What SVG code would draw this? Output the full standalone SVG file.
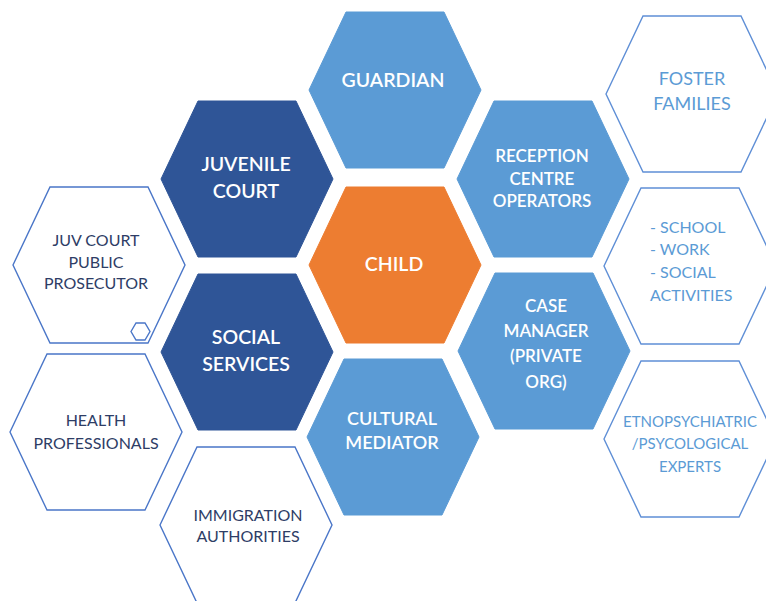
<svg xmlns="http://www.w3.org/2000/svg" xmlns:xlink="http://www.w3.org/1999/xlink" width="766" height="601" viewBox="0 0 766 601">
<style>
.lb{fill:#5b9bd5;stroke:#5b9bd5;stroke-width:1}
.db{fill:#2f5597;stroke:#2f5597;stroke-width:1}
.or{fill:#ed7d31;stroke:#ed7d31;stroke-width:1}
.ol{fill:#ffffff;stroke:#4a76c8;stroke-width:1.4}
.or2{fill:#ffffff;stroke:#5f8fd6;stroke-width:1.4}
text{font-family:Lato,"Open Sans","Liberation Sans",sans-serif;font-size:17px;text-anchor:middle}
.w{fill:#ffffff;font-weight:600}
.big{font-size:19.5px}
.mid{font-size:18px}
.dk{fill:#2e3d66;font-size:16px}
.lt{fill:#5b9bd5;font-size:16px}
</style>
<defs>
<polygon id="hex" points="-86,0 -49,-78 49,-78 86,0 49,78 -49,78"/>
</defs>
<rect width="766" height="601" fill="#ffffff"/>
<g id="connectors"/>
<g id="guardian"><use xlink:href="#hex" x="395" y="90" class="lb"/><text class="w big" x="393" y="87">GUARDIAN</text></g>
<g id="juvenile-court"><use xlink:href="#hex" x="247" y="179" class="db"/><text class="w big" x="246" y="171">JUVENILE</text><text class="w big" x="246" y="198">COURT</text></g>
<g id="reception"><use xlink:href="#hex" x="543" y="179" class="lb"/><text class="w" x="542" y="162">RECEPTION</text><text class="w" x="542" y="185">CENTRE</text><text class="w" x="542" y="207">OPERATORS</text></g>
<g id="child"><use xlink:href="#hex" x="395" y="265" class="or"/><text class="w big" x="394" y="271">CHILD</text></g>
<g id="social-services"><use xlink:href="#hex" x="247" y="352" class="db"/><text class="w big" x="246" y="344">SOCIAL</text><text class="w big" x="246" y="371">SERVICES</text></g>
<g id="case-manager"><use xlink:href="#hex" x="544" y="351" class="lb"/><text class="w" x="546" y="312">CASE</text><text class="w" x="546" y="337">MANAGER</text><text class="w" x="546" y="362">(PRIVATE</text><text class="w" x="546" y="388">ORG)</text></g>
<g id="cultural-mediator"><use xlink:href="#hex" x="393" y="437" class="lb"/><text class="w mid" x="392" y="425">CULTURAL</text><text class="w mid" x="392" y="449">MEDIATOR</text></g>
<g id="juv-court-prosecutor"><use xlink:href="#hex" x="99" y="265" class="ol"/><text class="dk" x="96" y="246">JUV COURT</text><text class="dk" x="96" y="268">PUBLIC</text><text class="dk" x="96" y="289">PROSECUTOR</text>
<polygon class="ol" points="131,331.5 136,323 145,323 150,331.5 145,340 136,340"/></g>
<g id="health"><use xlink:href="#hex" x="96" y="432" class="ol"/><text class="dk" x="96" y="426">HEALTH</text><text class="dk" x="96" y="449">PROFESSIONALS</text></g>
<g id="immigration"><use xlink:href="#hex" x="246" y="525" class="ol"/><text class="dk" x="248" y="521">IMMIGRATION</text><text class="dk" x="248" y="542">AUTHORITIES</text></g>
<g id="foster"><use xlink:href="#hex" x="692" y="94" class="or2"/><text class="lt" style="font-size:18px" x="692" y="85">FOSTER</text><text class="lt" style="font-size:18px" x="692" y="110">FAMILIES</text></g>
<g id="activities"><use xlink:href="#hex" x="690" y="266" class="or2"/><text class="lt" x="650" y="233" style="text-anchor:start">- SCHOOL</text><text class="lt" x="650" y="255" style="text-anchor:start">- WORK</text><text class="lt" x="650" y="278" style="text-anchor:start">- SOCIAL</text><text class="lt" x="650" y="301" style="text-anchor:start">ACTIVITIES</text></g>
<g id="experts"><use xlink:href="#hex" x="690" y="439" class="or2"/><text class="lt" style="font-size:15px" x="690" y="427">ETNOPSYCHIATRIC</text><text class="lt" style="font-size:15px" x="690" y="449">/PSYCOLOGICAL</text><text class="lt" style="font-size:15px" x="690" y="472">EXPERTS</text></g>
</svg>
